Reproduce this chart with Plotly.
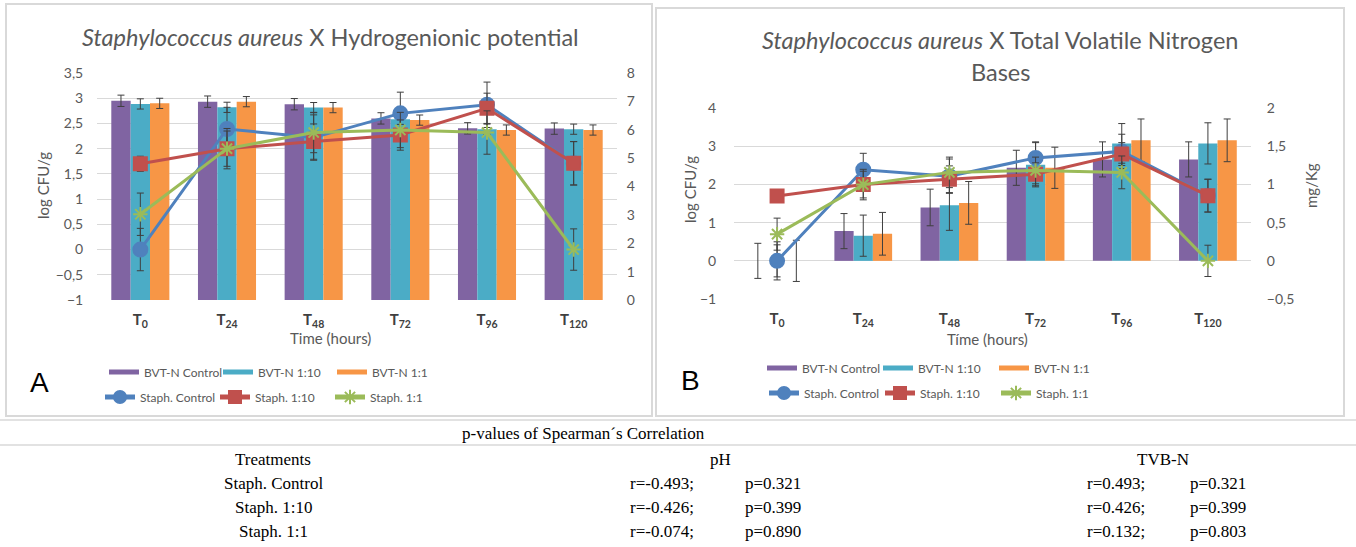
import plotly.graph_objects as go

W, H = 1356, 547
def px(x): return x / W
def py(y): return 1 - y / H

# ---------------- data ----------------
categories = ["T0", "T24", "T48", "T72", "T96", "T120"]
tick_labels = ["<b>T<sub>0</sub></b>", "<b>T<sub>24</sub></b>", "<b>T<sub>48</sub></b>",
               "<b>T<sub>72</sub></b>", "<b>T<sub>96</sub></b>", "<b>T<sub>120</sub></b>"]

# Panel A bars: pH (right axis)
ph_control = [7.02, 6.99, 6.90, 6.40, 6.05, 6.04]
ph_control_err = [0.20, 0.20, 0.20, 0.20, 0.20, 0.20]
ph_1_10 = [6.91, 6.79, 6.78, 6.37, 6.02, 6.02]
ph_1_10_err = [0.18, 0.18, 0.18, 0.18, 0.18, 0.18]
ph_1_1 = [6.93, 6.99, 6.78, 6.34, 5.99, 5.99]
ph_1_1_err = [0.18, 0.18, 0.18, 0.18, 0.18, 0.18]

# Panel B bars: TVB-N mg/Kg (right axis)
tvbn_control = [0.0, 0.39, 0.70, 1.22, 1.33, 1.33]
tvbn_control_err = [0.23, 0.23, 0.24, 0.23, 0.23, 0.23]
tvbn_1_10 = [0.0, 0.33, 0.73, 1.26, 1.54, 1.54]
tvbn_1_10_err = [0.25, 0.27, 0.33, 0.29, 0.26, 0.27]
tvbn_1_1 = [0.0, 0.355, 0.76, 1.22, 1.58, 1.58]
tvbn_1_1_err = [0.27, 0.28, 0.28, 0.27, 0.28, 0.28]

# Staphylococcus aureus counts, log CFU/g (left axis, both panels)
staph_control = [0.00, 2.39, 2.22, 2.70, 2.87, 1.71]
staph_control_err = [0.42, 0.43, 0.45, 0.42, 0.45, 0.43]
staph_1_10 = [1.70, 2.00, 2.14, 2.27, 2.80, 1.71]
staph_1_10_err = [0.15, 0.35, 0.35, 0.30, 0.30, 0.43]
staph_1_1 = [0.70, 2.00, 2.32, 2.37, 2.32, 0.00]
staph_1_1_err = [0.42, 0.40, 0.40, 0.35, 0.43, 0.41]

bar_names = ["BVT-N Control", "BVT-N 1:10", "BVT-N 1:1"]
line_names = ["Staph. Control", "Staph. 1:10", "Staph. 1:1"]

# Spearman table
table_title = "p-values of Spearman\u00b4s Correlation"
table_headers = ["Treatments", "pH", "TVB-N"]
treatments = ["Staph. Control", "Staph. 1:10", "Staph. 1:1"]
ph_r = ["r=-0.493;", "r=-0.426;", "r=-0.074;"]
ph_p = ["p=0.321", "p=0.399", "p=0.890"]
tvb_r = ["r=0.493;", "r=0.426;", "r=0.132;"]
tvb_p = ["p=0.321", "p=0.399", "p=0.803"]

# ---------------- styles ----------------
bar_colors = ["#8064A2", "#4BACC6", "#F79646"]
line_colors = ["#4F81BD", "#C0504D", "#9BBB59"]
symbols = ["circle", "square", "asterisk-open"]
msizes = [14, 13, 12]
ERR = "#3f3f3f"
GRID = "#d9d9d9"
TXT = "#595959"
FONT = "Lato"

fig = go.Figure()

def add_panel(xa, ybar, yline, bars, bars_err, leg_bar, leg_line):
    for name, vals, errs, col in zip(bar_names, bars, bars_err, bar_colors):
        fig.add_trace(go.Bar(
            x=categories, y=vals, name=name, marker=dict(color=col, line=dict(width=0)),
            error_y=dict(type="data", array=errs, visible=True, color=ERR, thickness=1, width=3.5),
            xaxis=xa, yaxis=ybar, showlegend=False))
        # legend swatch (wide rectangle like the original)
        fig.add_trace(go.Scatter(
            x=[None], y=[None], mode="lines", name=name,
            line=dict(color=col, width=8), xaxis=xa, yaxis=ybar, legend=leg_bar))
    for name, vals, errs, col, sym, ms in zip(line_names,
                                              [staph_control, staph_1_10, staph_1_1],
                                              [staph_control_err, staph_1_10_err, staph_1_1_err],
                                              line_colors, symbols, msizes):
        fig.add_trace(go.Scatter(
            x=categories, y=vals, name=name, mode="lines+markers",
            line=dict(color=col, width=3),
            marker=dict(symbol=sym, size=ms, color=col, line=dict(color=col, width=2)),
            error_y=dict(type="data", array=errs, visible=True, color=ERR, thickness=1, width=3.5),
            xaxis=xa, yaxis=yline, legend=leg_line))

add_panel("x", "y", "y2", [ph_control, ph_1_10, ph_1_1],
          [ph_control_err, ph_1_10_err, ph_1_1_err], "legend", "legend2")
add_panel("x2", "y3", "y4", [tvbn_control, tvbn_1_10, tvbn_1_1],
          [tvbn_control_err, tvbn_1_10_err, tvbn_1_1_err], "legend3", "legend4")

tickfont = dict(family=FONT, size=14, color=TXT)
xtickfont = dict(family=FONT, size=15, color="#404040")

xcommon = dict(type="category", tickvals=categories, ticktext=tick_labels, tickfont=xtickfont,
               showgrid=False, zeroline=False, showline=False, ticks="outside", ticklen=6,
               tickcolor="rgba(0,0,0,0)", fixedrange=True)

fig.update_layout(
    width=W, height=H, margin=dict(l=0, r=0, t=0, b=0, pad=0, autoexpand=False),
    paper_bgcolor="white", plot_bgcolor="rgba(0,0,0,0)",
    separators=",.", barmode="group", bargap=0.33, bargroupgap=0.0,
    font=dict(family=FONT, color=TXT),
    xaxis=dict(domain=[px(97), px(617)], anchor="y", **xcommon),
    yaxis=dict(domain=[py(300), py(73)], anchor="x", side="right", range=[0, 8], dtick=1,
               showgrid=False, zeroline=False, tickfont=tickfont, ticks="outside", ticklen=6,
               tickcolor="rgba(0,0,0,0)"),
    yaxis2=dict(overlaying="y", anchor="x", side="left", range=[-1, 3.5], dtick=0.5,
                tickformat=".1~f", showgrid=True, gridcolor=GRID, gridwidth=1, zeroline=False,
                tickfont=tickfont, ticks="outside", ticklen=10, tickcolor="rgba(0,0,0,0)"),
    xaxis2=dict(domain=[px(734), px(1251)], anchor="y3", **xcommon),
    yaxis3=dict(domain=[py(299), py(108.3)], anchor="x2", side="right", range=[-0.5, 2],
                dtick=0.5, tickformat=".1~f", showgrid=False, zeroline=False, tickfont=tickfont,
                ticks="outside", ticklen=12, tickcolor="rgba(0,0,0,0)"),
    yaxis4=dict(overlaying="y3", anchor="x2", side="left", range=[-1, 4], dtick=1,
                showgrid=True, gridcolor=GRID, gridwidth=1, zeroline=False, tickfont=tickfont,
                ticks="outside", ticklen=14, tickcolor="rgba(0,0,0,0)"),
)

legfont = dict(family=FONT, size=12, color=TXT)
def leg(x, y, ew):
    return dict(orientation="h", x=px(x), y=py(y), xanchor="left", yanchor="middle",
                font=legfont, entrywidth=ew, entrywidthmode="pixels",
                bgcolor="rgba(0,0,0,0)", itemclick=False, itemdoubleclick=False,
                tracegroupgap=0, itemsizing="constant")

fig.update_layout(
    legend=leg(104, 372, 69),
    legend2=leg(100, 397, 70),
    legend3=leg(762, 368, 71),
    legend4=leg(764, 393, 71),
)

ann = []
def text(x, y, s, size, color=TXT, family=FONT, xanchor="center", angle=0):
    ann.append(dict(x=px(x), y=py(y), xref="paper", yref="paper", text=s, showarrow=False,
                    xanchor=xanchor, yanchor="middle", textangle=angle,
                    font=dict(family=family, size=size, color=color)))

text(330, 37, "<i>Staphylococcus aureus</i> X Hydrogenionic potential", 23.5)
text(1000, 40, "<i>Staphylococcus aureus</i> X Total Volatile Nitrogen", 23.5)
text(1000, 72, "Bases", 23.5)
text(43, 186, "log CFU/g", 15, angle=-90)
text(690, 190, "log CFU/g", 15, angle=-90)
text(1311, 186, "mg/Kg", 15, angle=-90)
text(330, 338, "Time (hours)", 15)
text(988, 339, "T\u00edme (hours)", 15)
text(39, 382, "A", 28, color="black", family="Liberation Sans")
text(690, 380, "B", 28, color="black", family="Liberation Sans")

SERIF = "Liberation Serif"
TS = 17
text(583, 433, table_title, TS, color="black", family=SERIF)
text(273, 459, table_headers[0], TS, color="black", family=SERIF)
text(720, 459, table_headers[1], TS, color="black", family=SERIF)
text(1163, 459, table_headers[2], TS, color="black", family=SERIF)
for i, t in enumerate(treatments):
    yy = 483 + 24 * i
    text(273, yy, t, TS, color="black", family=SERIF)
    text(628, yy, ph_r[i], TS, color="black", family=SERIF, xanchor="left")
    text(743, yy, ph_p[i], TS, color="black", family=SERIF, xanchor="left")
    text(1085, yy, tvb_r[i], TS, color="black", family=SERIF, xanchor="left")
    text(1188, yy, tvb_p[i], TS, color="black", family=SERIF, xanchor="left")
fig.update_layout(annotations=ann)

shapes = [
    dict(type="rect", xref="paper", yref="paper", x0=px(6), x1=px(652), y0=py(416), y1=py(4),
         line=dict(color=GRID, width=2), fillcolor="rgba(0,0,0,0)", layer="below"),
    dict(type="rect", xref="paper", yref="paper", x0=px(656), x1=px(1344), y0=py(416), y1=py(8),
         line=dict(color=GRID, width=2), fillcolor="rgba(0,0,0,0)", layer="below"),
    dict(type="line", xref="paper", yref="paper", x0=0, x1=1, y0=py(420), y1=py(420),
         line=dict(color=GRID, width=1.5)),
    dict(type="line", xref="paper", yref="paper", x0=0, x1=1, y0=py(445), y1=py(445),
         line=dict(color=GRID, width=1.5)),
]
fig.update_layout(shapes=shapes)

fig.write_html("out.html",
               config={"displayModeBar": False},
               post_script="document.body.style.margin='0px';document.body.style.padding='0px';")
